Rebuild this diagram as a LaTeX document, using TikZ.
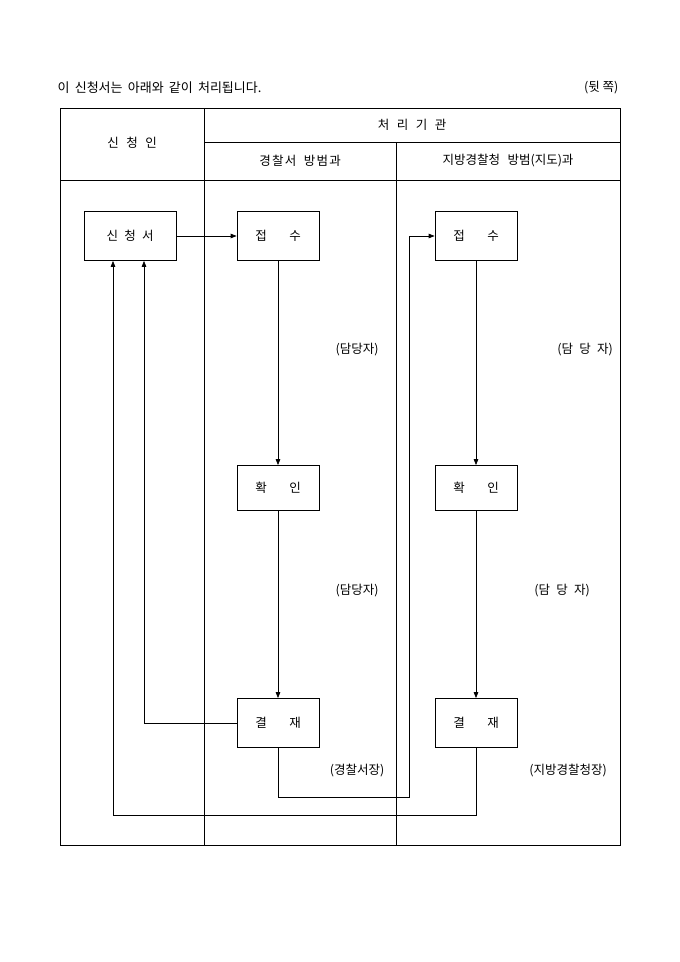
\documentclass[tikz,border=0pt]{standalone}
\usepackage{fontspec}
\setmainfont{Noto Sans CJK KR}
\usetikzlibrary{arrows.meta}
\begin{document}
\begin{tikzpicture}[x=1pt,y=-1pt,line width=0.7pt,
  every node/.style={font=\fontsize{12.5}{14}\selectfont},
  stepbox/.style={draw,minimum width=82pt,minimum height=49pt,inner sep=0pt},
  flow/.style={-{Triangle[length=6pt,width=4.5pt]}}]
  \useasboundingbox (0,0) rectangle (680,962);
  \node[anchor=west,font=\fontsize{13}{15}\selectfont] (title) at (54,88) {이\hspace{0.4em}신청서는\hspace{0.4em}아래와\hspace{0.4em}같이\hspace{0.4em}처리됩니다.};
  \node[anchor=east] (side) at (622,88) {(뒷 쪽)};
  \draw (60,108) rectangle (620,845);
  \draw (204,108) -- (204,845);
  \draw (396,142) -- (396,845);
  \draw (204,142) -- (620,142);
  \draw (60,180) -- (620,180);
  \node (applicant) at (132,143) {신\hspace{0.6em}청\hspace{0.6em}인};
  \node (agency) at (412,125) {처\hspace{0.6em}리\hspace{0.6em}기\hspace{0.6em}관};
  \node (police) at (300,161) {경\hspace{0.1em}찰\hspace{0.1em}서\hspace{0.6em}방\hspace{0.1em}범\hspace{0.1em}과};
  \node (region) at (508,161) {지방경찰청\hspace{0.6em}방범(지도)과};
  \node[stepbox,minimum width=92pt] (form) at (130,236) {신\hspace{0.5em}청\hspace{0.5em}서};
  \node[stepbox] (recvA) at (278,236) {접\hspace{1.8em}수};
  \node[stepbox] (recvB) at (476,236) {접\hspace{1.8em}수};
  \node[stepbox,minimum height=45pt] (checkA) at (278,488) {확\hspace{1.8em}인};
  \node[stepbox,minimum height=45pt] (checkB) at (476,488) {확\hspace{1.8em}인};
  \node[stepbox] (signA) at (278,723) {결\hspace{1.8em}재};
  \node[stepbox] (signB) at (476,723) {결\hspace{1.8em}재};
  \node (staffA1) at (357,350) {(담당자)};
  \node (staffB1) at (585,350) {(담\hspace{0.5em}당\hspace{0.5em}자)};
  \node (staffA2) at (357,591) {(담당자)};
  \node (staffB2) at (562,591) {(담\hspace{0.5em}당\hspace{0.5em}자)};
  \node (chiefA) at (357,771) {(경찰서장)};
  \node (chiefB) at (568,771) {(지방경찰청장)};
  \draw[flow] (form) -- (recvA);
  \draw[flow] (recvA) -- (checkA);
  \draw[flow] (checkA) -- (signA);
  \draw[flow] (recvB) -- (checkB);
  \draw[flow] (checkB) -- (signB);
  \draw[flow] (signA.west) -| ([xshift=14pt]form.south);
  \draw[flow] (signA.south) |- (409,797) |- (recvB.west);
  \draw[flow] (signB.south) |- (113,815) -- ([xshift=-17pt]form.south);
\end{tikzpicture}
\end{document}
